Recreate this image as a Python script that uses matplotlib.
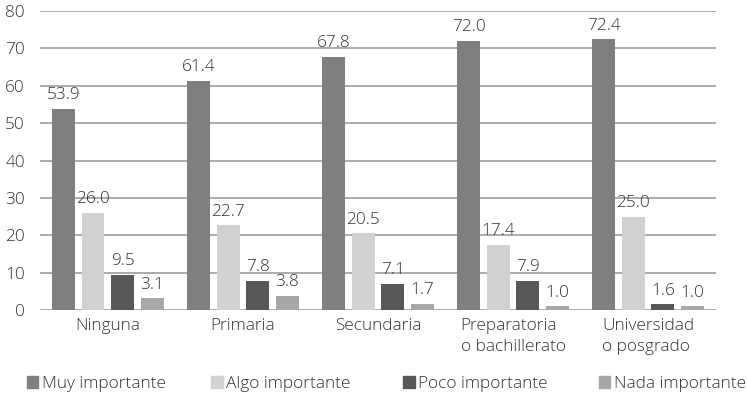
import matplotlib.pyplot as plt
import matplotlib.patches as mpatches
import numpy as np

plt.rcParams['font.family'] = ['Open Sans', 'DejaVu Sans']
plt.rcParams['font.weight'] = 'light'

# Data
categories = ["Ninguna", "Primaria", "Secundaria", "Preparatoria\no bachillerato", "Universidad\no posgrado"]
series = ["Muy importante", "Algo importante", "Poco importante", "Nada importante"]
muy = [53.9, 61.4, 67.8, 72.0, 72.4]
algo = [26.0, 22.7, 20.5, 17.4, 25.0]
poco = [9.5, 7.8, 7.1, 7.9, 1.6]
nada = [3.1, 3.8, 1.7, 1.0, 1.0]
values = [muy, algo, poco, nada]

colors = ['#7f7f82', '#d1d1d1', '#58585a', '#a7a7a7']
text_color = '#333333'
fs = 12.4

fig = plt.figure(figsize=(7.47, 3.96), dpi=100)
ax = fig.add_axes([0.054, 0.217, 0.904, 0.755])

x = np.arange(len(categories))
offsets = [-0.33, -0.11, 0.11, 0.33]
width = 0.17

for vals, off, col in zip(values, offsets, colors):
    bars = ax.bar(x + off, vals, width, color=col, zorder=3)
    for b, v in zip(bars, vals):
        ax.annotate(f"{v:.1f}", (b.get_x() + b.get_width() / 2, v),
                    xytext=(0, 4), textcoords='offset points',
                    ha='center', va='bottom', fontsize=fs, color=text_color)

ax.set_xlim(-0.5, len(categories) - 0.5)
ax.set_ylim(0, 80)
ax.set_yticks(range(0, 81, 10))
ax.yaxis.grid(True, color='#a5a5a5', linewidth=1.3, zorder=0)
ax.set_axisbelow(True)
for s in ax.spines.values():
    s.set_visible(False)
ax.tick_params(axis='both', length=0, labelsize=fs, colors=text_color)
ax.tick_params(axis='y', pad=11)
ax.set_xticks(x)
ax.set_xticklabels(categories, multialignment='left', linespacing=1.4)
ax.tick_params(axis='x', pad=6)

# Legend entries placed individually along the bottom
leg_x = [0.036, 0.283, 0.540, 0.802]
for name, col, lx in zip(series, colors, leg_x):
    h = mpatches.Patch(color=col, label=name)
    fig.legend(handles=[h], loc='center left', bbox_to_anchor=(lx, 0.03),
               frameon=False, fontsize=fs, handlelength=0.65, handleheight=0.65,
               handletextpad=0.2, borderaxespad=0, borderpad=0,
               labelcolor=text_color)

fig.savefig("out.png", dpi=100)
